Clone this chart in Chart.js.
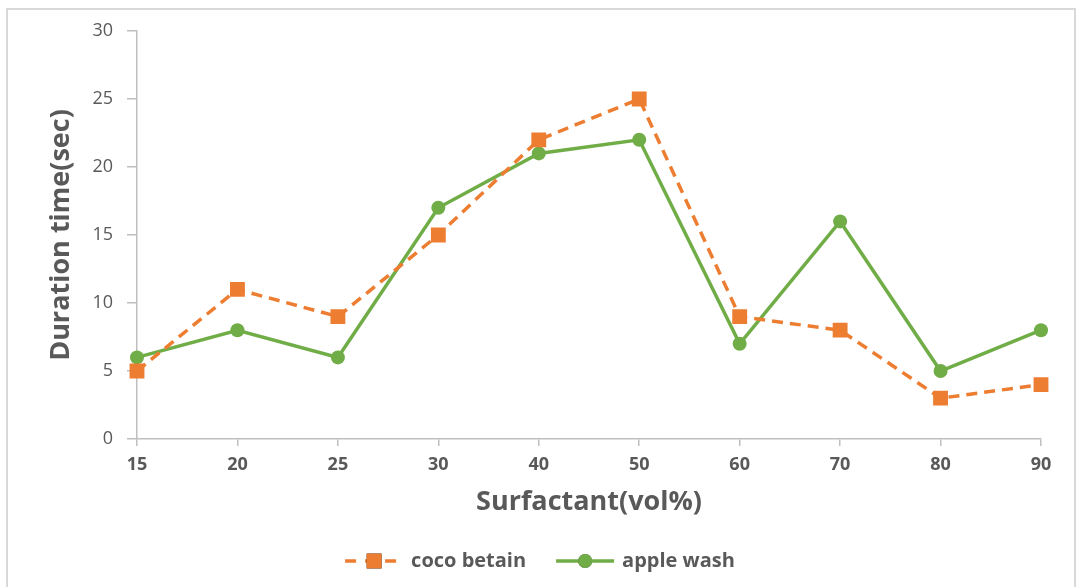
<!DOCTYPE html>
<html>
<head>
<meta charset="utf-8">
<script src="https://cdn.jsdelivr.net/npm/chart.js@4.4.1/dist/chart.umd.min.js"></script>
<style>
  html, body { margin: 0; padding: 0; background: #fff; overflow: hidden; }
  #wrap { position: relative; width: 1080px; height: 587px; }
  #frame { position: absolute; left: 6px; top: 8px; width: 1070px; height: 620px; border: 2px solid #d9d9d9; box-sizing: border-box; pointer-events: none; }
</style>
</head>
<body>
<div id="wrap">
  <canvas id="chart" width="1080" height="587"></canvas>
  <div id="frame"></div>
</div>
<script>
// values
const surfactant = ["15", "20", "25", "30", "40", "50", "60", "70", "80", "90"];
const cocoBetain = [5, 11, 9, 15, 22, 25, 9, 8, 3, 4];
const appleWash = [6, 8, 6, 17, 21, 22, 7, 16, 5, 8];

const ORANGE = "#ED7D31";
const GREEN = "#70AD47";
const AXIS = "#bfbfbf";
const TEXT = "#595959";
const FONT = "'Open Sans', 'Liberation Sans', sans-serif";

// legend drawn Excel style: line segment + marker + label, centred under the plot
const bottomLegend = {
  id: "bottomLegend",
  afterDraw(chart) {
    const ctx = chart.ctx;
    const y = 561;
    const lineW = 58, gapText = 8, gapItem = 30;
    ctx.save();
    ctx.font = "bold 20px " + FONT;
    const items = chart.data.datasets.map(ds => ({ ds, w: lineW + gapText + ctx.measureText(ds.label).width }));
    const total = items.reduce((s, it) => s + it.w, 0) + gapItem * (items.length - 1);
    let x = (chart.width - total) / 2;
    items.forEach(({ ds, w }) => {
      ctx.strokeStyle = ds.borderColor;
      ctx.lineWidth = ds.borderWidth;
      ctx.setLineDash(ds.borderDash ? [11, 9] : []);
      ctx.beginPath();
      ctx.moveTo(x, y);
      ctx.lineTo(x + lineW, y);
      ctx.stroke();
      ctx.setLineDash([]);
      Chart.helpers.drawPoint(ctx, {
        pointStyle: ds.pointStyle, radius: ds.pointRadius, rotation: 0, borderWidth: 0
      }, x + lineW / 2, y);
      ctx.fillStyle = ds.pointBackgroundColor;
      ctx.fill();
      ctx.fillStyle = TEXT;
      ctx.textBaseline = "middle";
      ctx.textAlign = "left";
      ctx.fillText(ds.label, x + lineW + gapText, y);
      x += w + gapItem;
    });
    ctx.restore();
  }
};

new Chart(document.getElementById("chart"), {
  type: "line",
  data: {
    labels: surfactant,
    datasets: [
      {
        label: "coco betain",
        data: cocoBetain,
        borderColor: ORANGE,
        backgroundColor: ORANGE,
        pointBackgroundColor: ORANGE,
        pointBorderColor: ORANGE,
        borderWidth: 3.5,
        borderDash: [11, 7],
        pointStyle: "rect",
        pointRadius: 10.5,
        pointBorderWidth: 0,
        tension: 0,
      },
      {
        label: "apple wash",
        data: appleWash,
        borderColor: GREEN,
        backgroundColor: GREEN,
        pointBackgroundColor: GREEN,
        pointBorderColor: GREEN,
        borderWidth: 3.5,
        pointStyle: "circle",
        pointRadius: 7,
        pointBorderWidth: 0,
        tension: 0,
      },
    ],
  },
  options: {
    responsive: false,
    animation: false,
    layout: { padding: { top: 31, right: 39, bottom: 68, left: 0 } },
    plugins: { legend: { display: false }, tooltip: { enabled: false } },
    scales: {
      x: {
        type: "category",
        offset: false,
        afterFit(scale) { scale.height = 80; },
        grid: { drawOnChartArea: false, drawTicks: true, tickLength: 7, color: AXIS, lineWidth: 1.5 },
        border: { color: AXIS, width: 1.5 },
        ticks: { color: TEXT, padding: 8, font: { family: FONT, size: 18, weight: "bold" } },
        title: {
          display: true,
          text: "Surfactant(vol%)",
          color: TEXT,
          padding: { top: 0, bottom: 0 },
          font: { family: FONT, size: 27, weight: "bold" },
        },
      },
      y: {
        min: 0,
        max: 30,
        afterFit(scale) { scale.width = 137; },
        grid: { drawOnChartArea: false, drawTicks: true, tickLength: 10, color: AXIS, lineWidth: 1.5 },
        border: { color: AXIS, width: 1.5 },
        ticks: { stepSize: 5, color: TEXT, padding: 14, font: { family: FONT, size: 18 } },
        title: {
          display: true,
          text: "Duration time(sec)",
          color: TEXT,
          padding: { top: 45, bottom: 0 },
          font: { family: FONT, size: 27, weight: "bold" },
        },
      },
    },
  },
  plugins: [bottomLegend],
});
</script>
</body>
</html>
